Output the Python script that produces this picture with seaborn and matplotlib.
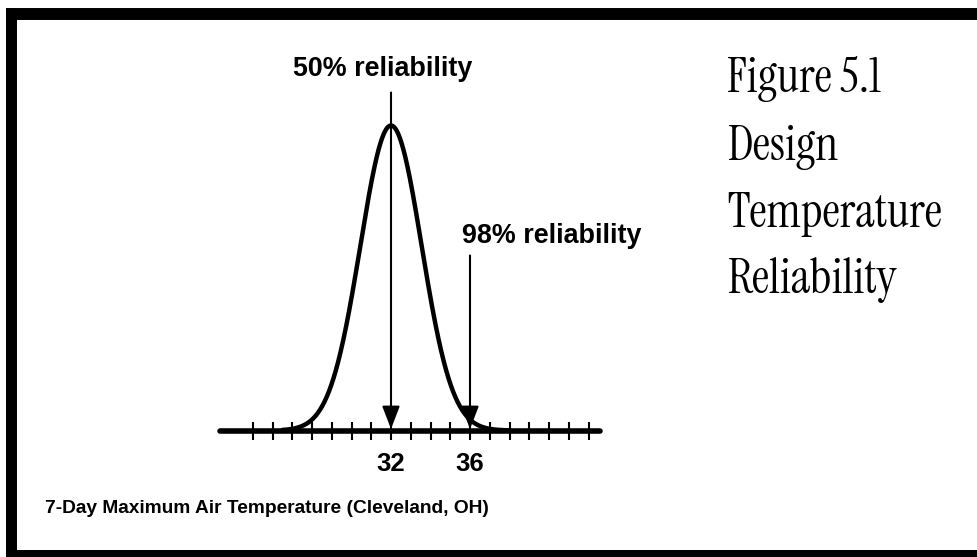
import numpy as np
import pandas as pd
import seaborn as sns
import matplotlib
matplotlib.use("Agg")
import matplotlib.pyplot as plt
from matplotlib.lines import Line2D

# 7-day maximum air temperature scale (deg F)
tick_values = list(range(25, 43))
labeled_ticks = [32, 36]

# Distribution of the 7-day maximum temperature
mean_temp = 32.0
spread = 1.55
curve_span = [26.5, 38.0]

# Reliability markers
reliability_temps = [32, 36]
reliability_labels = ["50% reliability", "98% reliability"]

axis_title = "7-Day Maximum Air Temperature (Cleveland, OH)"
side_title = ["Figure 5.1", "Design", "Temperature", "Reliability"]

sns.set_theme(style="white")
plt.rcParams["font.family"] = ["Liberation Sans", "DejaVu Sans"]

W, H = 978, 557
fig = plt.figure(figsize=(W / 100, H / 100), dpi=100)
fig.patch.set_facecolor("white")


def fx(px):
    return px / W


def fy(py):
    return 1 - py / H


# Page frame (left and top rules, bottom rule)
fig.add_artist(Line2D([fx(11.5), fx(11.5)], [fy(8), fy(560)], lw=7.9, color="black", solid_capstyle="butt"))
fig.add_artist(Line2D([fx(6), fx(980)], [fy(14), fy(14)], lw=8.6, color="black", solid_capstyle="butt"))
fig.add_artist(Line2D([fx(6), fx(980)], [fy(555), fy(555)], lw=7.2, color="black", solid_capstyle="butt"))

# Plot area: the bottom spine is the temperature axis
px_per_deg = 19.75
x0 = mean_temp - (391 - 220) / px_per_deg
x1 = mean_temp + (600 - 391) / px_per_deg
ax = fig.add_axes([fx(220), fy(430.5), 380 / W, 305 / H])
ax.set_xlim(x0, x1)
ax.set_ylim(0, 1)
ax.patch.set_alpha(0)

temps = np.linspace(curve_span[0], curve_span[1], 400)
curve = pd.DataFrame({"temp": temps,
                      "density": np.exp(-0.5 * ((temps - mean_temp) / spread) ** 2)})
sns.lineplot(data=curve, x="temp", y="density", ax=ax, color="black", lw=3.2,
             clip_on=False, solid_capstyle="round")

for side in ["left", "right", "top"]:
    ax.spines[side].set_visible(False)
ax.spines["bottom"].set_linewidth(4.0)
ax.spines["bottom"].set_color("black")
ax.spines["bottom"].set_capstyle("round")

ax.set_xticks(labeled_ticks)
ax.set_xticklabels([str(t) for t in labeled_ticks], fontweight="bold")
ax.set_xticks([t for t in tick_values if t not in labeled_ticks], minor=True)
ax.tick_params(axis="x", which="both", direction="inout", length=13, width=1.5,
               color="black", bottom=True)
ax.tick_params(axis="x", which="major", pad=9, labelsize=18.5, labelcolor="black")
ax.set_yticks([])
ax.set_xlabel("")
ax.set_ylabel("")

# Reliability arrows
arrow_tops = [(430 - 92) / 305, (430 - 255) / 305]
for t, top in zip(reliability_temps, arrow_tops):
    ax.annotate("", xy=(t, 0.005), xytext=(t, top), annotation_clip=False,
                arrowprops=dict(arrowstyle="-|>,head_length=0.7,head_width=0.27",
                                color="black", lw=1.5, shrinkA=0, shrinkB=0,
                                mutation_scale=20))

fig.text(fx(293), fy(76), reliability_labels[0], ha="left", va="baseline",
         fontsize=19.4, fontweight="bold", color="black")
fig.text(fx(462), fy(243), reliability_labels[1], ha="left", va="baseline",
         fontsize=19.4, fontweight="bold", color="black")

fig.text(fx(45), fy(513), axis_title, ha="left", va="baseline",
         fontsize=13.8, fontweight="bold", color="black")

for line, base in zip(side_title, [92, 160, 227, 293]):
    fig.text(fx(727), fy(base), line, ha="left", va="baseline",
             fontsize=35, family=["Instrument Serif", "Liberation Serif"], color="black")

fig.savefig("out.png", dpi=100, facecolor="white")
